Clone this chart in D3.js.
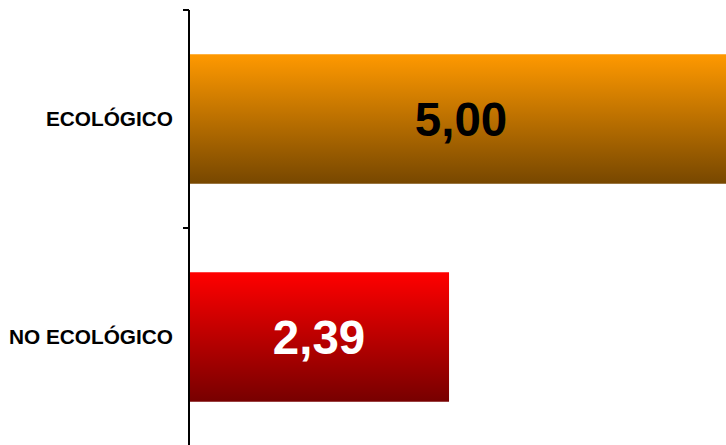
<!DOCTYPE html>
<html>
<head>
<meta charset="utf-8">
<script src="https://cdn.jsdelivr.net/npm/d3@7"></script>
<style>
html,body{margin:0;padding:0;background:#fff;overflow:hidden;}
svg{display:block;}
</style>
</head>
<body>
<svg id="chart" width="726" height="445"></svg>
<script>
const categories = ["ECOLÓGICO", "NO ECOLÓGICO"];
const values = [5.00, 2.39];
const valueLabels = ["5,00", "2,39"];
const gradTop = ["#FF9900", "#FF0000"];
const gradBottom = ["#774700", "#770000"];
const labelColors = ["#000000", "#FFFFFF"];

const svg = d3.select("#chart");
const W = 726, H = 445;
const x0 = 189;

const x = d3.scaleLinear().domain([0, 5]).range([x0, 733]);
const y = d3.scaleBand().domain(categories).range([10, 446]).paddingInner(0.406).paddingOuter(0.203);

const defs = svg.append("defs");
categories.forEach((c, i) => {
  const g = defs.append("linearGradient").attr("id", "g" + i)
    .attr("x1", 0).attr("y1", 0).attr("x2", 0).attr("y2", 1);
  g.append("stop").attr("offset", "0%").attr("stop-color", gradTop[i]);
  g.append("stop").attr("offset", "100%").attr("stop-color", gradBottom[i]);
});

svg.append("g").selectAll("rect").data(categories).join("rect")
  .attr("x", x(0))
  .attr("y", d => y(d))
  .attr("width", (d, i) => x(values[i]) - x(0))
  .attr("height", y.bandwidth())
  .attr("fill", (d, i) => `url(#g${i})`);

// value labels
svg.append("g").selectAll("text").data(categories).join("text")
  .attr("x", (d, i) => (x(0) + x(values[i])) / 2)
  .attr("y", d => y(d) + y.bandwidth() / 2)
  .attr("dy", "0.35em")
  .attr("text-anchor", "middle")
  .attr("font-family", "Liberation Sans, Arial, sans-serif")
  .attr("font-weight", "bold")
  .attr("font-size", 47.5)
  .attr("fill", (d, i) => labelColors[i])
  .text((d, i) => valueLabels[i]);

// axis
const axisG = svg.append("g").attr("transform", `translate(${x0},0)`);
axisG.append("line").attr("x1", 0).attr("x2", 0).attr("y1", 10).attr("y2", H)
  .attr("stroke", "#000").attr("stroke-width", 2);
const step = y.step();
const tickYs = [10, 10 + step];
axisG.selectAll(".tk").data(tickYs).join("line").attr("class", "tk")
  .attr("x1", -6).attr("x2", 0).attr("y1", d => d).attr("y2", d => d)
  .attr("stroke", "#000").attr("stroke-width", 2);

svg.append("g").selectAll("text").data(categories).join("text")
  .attr("x", 173)
  .attr("y", d => y(d) + y.bandwidth() / 2)
  .attr("dy", "0.355em")
  .attr("text-anchor", "end")
  .attr("font-family", "Liberation Sans, Arial, sans-serif")
  .attr("font-weight", "bold")
  .attr("font-size", 20.8)
  .attr("fill", "#000")
  .text(d => d);
</script>
</body>
</html>
